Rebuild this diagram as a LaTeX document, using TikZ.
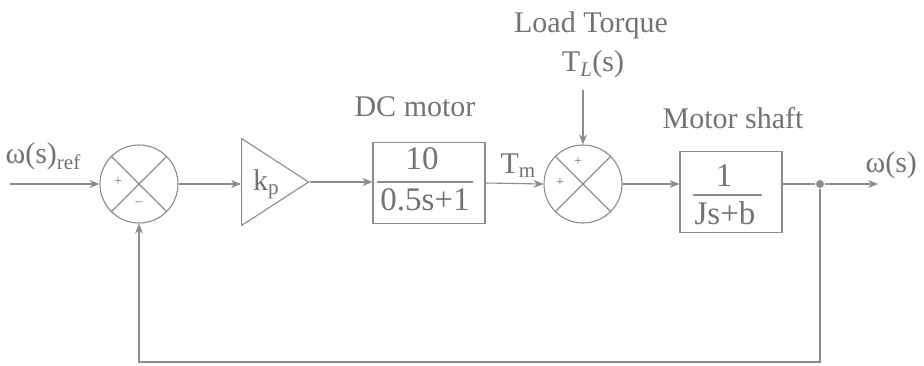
\documentclass[tikz,border=0pt]{standalone}
\usepackage{fontspec}
\setmainfont{Liberation Serif}
\usetikzlibrary{shapes.geometric,arrows.meta}
\definecolor{ln}{RGB}{140,140,140}
\definecolor{tx}{RGB}{115,115,115}
\begin{document}
\begin{tikzpicture}[x=1pt,y=-1pt,line width=1.1pt,
  sumjn/.style={circle,draw=ln,minimum size=78pt,inner sep=0pt},
  blk/.style={rectangle,draw=ln,inner sep=0pt},
  lbl/.style={text=tx,font=\fontsize{30}{34}\selectfont,inner sep=0pt},
  frac/.style={text=tx,font=\fontsize{33}{36}\selectfont,inner sep=0pt},
  sgn/.style={text=tx,font=\fontsize{14}{16}\selectfont,inner sep=0pt},
  sig/.style={draw=ln,-{Stealth[length=10pt,width=8pt]}},
  wire/.style={draw=ln}]
\useasboundingbox (0,0) rectangle (924,366);

% summing junction 1
\node[sumjn] (c1) at (139,184) {};
\draw[wire] (c1.45) -- (c1.225) (c1.135) -- (c1.315);
\node[sgn] (p1) at (118,182) {+};
\node[sgn] (m1) at (139,204) {--};

% gain
\node[isosceles triangle,draw=ln,isosceles triangle stretches,
  minimum height=67pt,minimum width=87pt,inner sep=0pt,anchor=apex] (amp) at (310,182) {};
\node[lbl] (kp) at (266,184) {k\textsubscript{p}};

% DC motor block
\node[blk,minimum width=112pt,minimum height=81pt] (g1) at (429,183) {};
\node[frac] (n1) at (422,159) {10};
\node[frac] (d1) at (425,200) {0.5s+1};
\draw[wire] (377,182) -- (473,182);
\node[lbl] (dcm) at (415,107) {DC motor};
\node[lbl,anchor=west] (tm) at (500,166) {T\textsubscript{m}};

% summing junction 2
\node[sumjn] (c2) at (583,184) {};
\draw[wire] (c2.45) -- (c2.225) (c2.135) -- (c2.315);
\node[sgn] (p2) at (578,162) {+};
\node[sgn] (p3) at (560,183) {+};
\node[lbl] (lt) at (591,25) {Load Torque};
\node[lbl] (tl) at (593,64) {T\textsubscript{\textit{L}}(s)};
\coordinate (tin) at (583,90);

% motor shaft block
\node[blk,minimum width=102pt,minimum height=81pt] (g2) at (731,192) {};
\node[frac] (n2) at (724,176) {1};
\node[frac] (d2) at (725,213) {Js+b};
\draw[wire] (693,195) -- (762,195);
\node[lbl] (msh) at (733,118) {Motor shaft};

% signals
\coordinate (in) at (10,184);
\node[lbl,anchor=west] (wref) at (5,156) {ω(s)\textsubscript{ref}};
\node[circle,fill=ln,minimum size=8pt,inner sep=0pt] (jd) at (820,184) {};
\coordinate (out) at (878,184);
\node[lbl,anchor=west] (wout) at (865,165) {ω(s)};
\coordinate (fb) at (820,362);

\draw[sig] (in) -- (c1.west);
\draw[sig] (c1.east) -- (c1.east -| amp.west);
\draw[sig] (amp.apex) -- (amp.apex -| g1.west);
\draw[sig] (g1.east) -- (c2.west);
\draw[sig] (tin) -- (c2.north);
\draw[sig] (c2.east) -- (c2.east -| g2.west);
\draw[wire] (c2.east -| g2.east) -- (jd);
\draw[sig] (jd) -- (out);
\draw[sig] (jd) -- (fb) -| (c1.south);
\end{tikzpicture}
\end{document}
